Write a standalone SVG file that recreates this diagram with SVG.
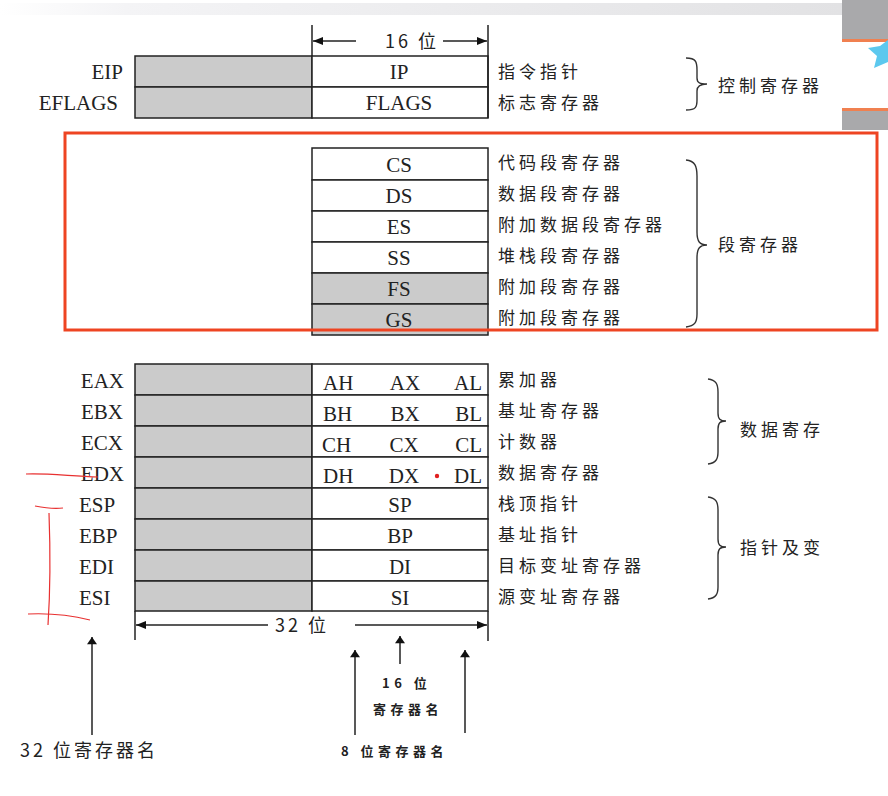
<svg xmlns="http://www.w3.org/2000/svg" width="888" height="796" viewBox="0 0 888 796">
<defs>
<linearGradient id="topband" x1="0" y1="0" x2="1" y2="0">
<stop offset="0" stop-color="#ffffff"/>
<stop offset="0.15" stop-color="#f4f4f6"/>
<stop offset="1" stop-color="#e2e2e4"/>
</linearGradient>
<marker id="ah" viewBox="0 0 10 8" refX="10" refY="4" markerWidth="10" markerHeight="8" markerUnits="userSpaceOnUse" orient="auto">
<path d="M0,0 L10,4 L0,8 Z" fill="#111"/>
</marker>
<marker id="ah2" viewBox="0 0 10 14" refX="10" refY="7" markerWidth="14" markerHeight="10" markerUnits="userSpaceOnUse" orient="auto">
<path d="M0,0 L10,7 L0,14 Z" fill="#111"/>
</marker>
</defs>
<style>
.box{fill:#fff;stroke:#222;stroke-width:1.5}
.g{fill:#cbcbcb;stroke:#222;stroke-width:1.5}
.reg{font-family:"Liberation Serif","DejaVu Serif",serif;font-size:21px;fill:#222}
.cn{font-family:"Noto Sans CJK SC","Noto Sans",sans-serif;font-size:17px;letter-spacing:4px;fill:#222}
.cnb{font-family:"Noto Sans CJK SC","Noto Sans",sans-serif;font-size:18px;letter-spacing:3px;fill:#222}
.cn2{font-family:"Noto Sans CJK SC","Noto Sans",sans-serif;font-size:13px;letter-spacing:4.5px;fill:#222;font-weight:bold}
.ln{stroke:#222;stroke-width:1.5;fill:none}
.br{stroke:#333;stroke-width:1.4;fill:none}
.red{stroke:#e83030;stroke-width:1.2;fill:none}
</style>
<rect width="888" height="796" fill="#fff"/>
<rect x="0" y="3" width="842" height="12" fill="url(#topband)"/>
<g id="corner">
<rect x="842" y="0" width="46" height="40" fill="#a9a9ab"/>
<rect x="842" y="39" width="46" height="3" fill="#f08050"/>
<rect x="842" y="108" width="46" height="3" fill="#f08050"/>
<rect x="842" y="111" width="46" height="19" fill="#a9a9ab"/>
<path d="M888,40 L880,46 L868,48 L877,56 L874,68 L888,62 Z" fill="#5cc8ee"/>
</g>

<g id="ctrl">
<rect class="g" x="135" y="56" width="177" height="31"/>
<rect class="g" x="135" y="87" width="177" height="31"/>
<rect class="box" x="312" y="56" width="176" height="31"/>
<rect class="box" x="312" y="87" width="176" height="31"/>
<text class="reg" x="123" y="79" text-anchor="end">EIP</text>
<text class="reg" x="118" y="110" text-anchor="end">EFLAGS</text>
<text class="reg" x="399" y="79" text-anchor="middle">IP</text>
<text class="reg" x="399" y="110" text-anchor="middle">FLAGS</text>
<text class="cn" x="498" y="78">指令指针</text>
<text class="cn" x="498" y="109">标志寄存器</text>
<path class="br" d="M686,58 C696,58 697,62 697,70 L697,78 C697,83 700,84 707,84 C700,84 697,86 697,91 L697,100 C697,107 696,110 686,110"/>
<text class="cn" x="718" y="92">控制寄存器</text>
</g>

<g id="seg">
<rect class="box" x="312" y="148" width="176" height="32"/>
<rect class="box" x="312" y="180" width="176" height="31"/>
<rect class="box" x="312" y="211" width="176" height="31"/>
<rect class="box" x="312" y="242" width="176" height="31"/>
<rect class="g" x="312" y="273" width="176" height="31"/>
<rect class="g" x="312" y="304" width="176" height="31"/>
<text class="reg" x="399" y="172" text-anchor="middle">CS</text>
<text class="reg" x="399" y="203" text-anchor="middle">DS</text>
<text class="reg" x="399" y="234" text-anchor="middle">ES</text>
<text class="reg" x="399" y="265" text-anchor="middle">SS</text>
<text class="reg" x="399" y="296" text-anchor="middle">FS</text>
<text class="reg" x="399" y="327" text-anchor="middle">GS</text>
<text class="cn" x="498" y="169">代码段寄存器</text>
<text class="cn" x="498" y="200">数据段寄存器</text>
<text class="cn" x="498" y="231">附加数据段寄存器</text>
<text class="cn" x="498" y="262">堆栈段寄存器</text>
<text class="cn" x="498" y="293">附加段寄存器</text>
<text class="cn" x="498" y="324">附加段寄存器</text>
<path class="br" d="M686,160 C695,161 697,166 697,176 L697,232 C697,242 700,245 707,245 C700,245 697,248 697,258 L697,314 C697,322 695,326 686,327"/>
<text class="cn" x="718" y="251">段寄存器</text>
</g>
<rect id="highlight" x="65" y="133" width="812" height="197" fill="none" stroke="#ee4422" stroke-width="3"/>

<g id="gp">
<rect class="g" x="135" y="364" width="177" height="31"/>
<rect class="g" x="135" y="395" width="177" height="31"/>
<rect class="g" x="135" y="426" width="177" height="31"/>
<rect class="g" x="135" y="457" width="177" height="31"/>
<rect class="g" x="135" y="488" width="177" height="31"/>
<rect class="g" x="135" y="519" width="177" height="31"/>
<rect class="g" x="135" y="550" width="177" height="31"/>
<rect class="g" x="135" y="581" width="177" height="30"/>
<rect class="box" x="312" y="364" width="176" height="31"/>
<rect class="box" x="312" y="395" width="176" height="31"/>
<rect class="box" x="312" y="426" width="176" height="31"/>
<rect class="box" x="312" y="457" width="176" height="31"/>
<rect class="box" x="312" y="488" width="176" height="31"/>
<rect class="box" x="312" y="519" width="176" height="31"/>
<rect class="box" x="312" y="550" width="176" height="31"/>
<rect class="box" x="312" y="581" width="176" height="30"/>
<text class="reg" x="124" y="388" text-anchor="end">EAX</text>
<text class="reg" x="123" y="419" text-anchor="end">EBX</text>
<text class="reg" x="123" y="450" text-anchor="end">ECX</text>
<text class="reg" x="124" y="481" text-anchor="end">EDX</text>
<text class="reg" x="79" y="512">ESP</text>
<text class="reg" x="79" y="543">EBP</text>
<text class="reg" x="79" y="574">EDI</text>
<text class="reg" x="79" y="605">ESI</text>
<text class="reg" x="323" y="390">AH</text><text class="reg" x="405" y="390" text-anchor="middle">AX</text><text class="reg" x="482" y="390" text-anchor="end">AL</text>
<text class="reg" x="323" y="421">BH</text><text class="reg" x="405" y="421" text-anchor="middle">BX</text><text class="reg" x="482" y="421" text-anchor="end">BL</text>
<text class="reg" x="322" y="452">CH</text><text class="reg" x="404" y="452" text-anchor="middle">CX</text><text class="reg" x="482" y="452" text-anchor="end">CL</text>
<text class="reg" x="323" y="483">DH</text><text class="reg" x="404" y="483" text-anchor="middle">DX</text><text class="reg" x="482" y="483" text-anchor="end">DL</text>
<circle cx="437" cy="476" r="2.2" fill="#e02020"/>
<text class="reg" x="400" y="512" text-anchor="middle">SP</text>
<text class="reg" x="400" y="543" text-anchor="middle">BP</text>
<text class="reg" x="400" y="574" text-anchor="middle">DI</text>
<text class="reg" x="400" y="605" text-anchor="middle">SI</text>
<text class="cn" x="498" y="386">累加器</text>
<text class="cn" x="498" y="417">基址寄存器</text>
<text class="cn" x="498" y="448">计数器</text>
<text class="cn" x="498" y="479">数据寄存器</text>
<text class="cn" x="498" y="510">栈顶指针</text>
<text class="cn" x="498" y="541">基址指针</text>
<text class="cn" x="498" y="572">目标变址寄存器</text>
<text class="cn" x="498" y="603">源变址寄存器</text>
<path class="br" d="M708,379 C716,380 718,384 718,392 L718,413 C718,419 720,421 726,421 C720,421 718,423 718,429 L718,452 C718,459 716,463 708,464"/>
<text class="cn" x="740" y="436">数据寄存</text>
<path class="br" d="M708,497 C716,498 718,502 718,510 L718,539 C718,545 720,547 726,547 C720,547 718,549 718,555 L718,587 C718,594 716,598 708,599"/>
<text class="cn" x="740" y="554">指针及变</text>
</g>

<g id="connectors">
<line class="ln" x1="312" y1="25" x2="312" y2="56"/>
<line class="ln" x1="488" y1="25" x2="488" y2="118"/>
<line class="ln" x1="356" y1="41" x2="313" y2="41" marker-end="url(#ah)"/>
<line class="ln" x1="443" y1="41" x2="487" y2="41" marker-end="url(#ah)"/>
<line class="ln" x1="135" y1="611" x2="135" y2="640"/>
<line class="ln" x1="488" y1="611" x2="488" y2="641"/>
<line class="ln" x1="268" y1="625" x2="136" y2="625" marker-end="url(#ah)"/>
<line class="ln" x1="355" y1="625" x2="487" y2="625" marker-end="url(#ah)"/>
<line class="ln" x1="92" y1="735" x2="92" y2="637" marker-end="url(#ah2)"/>
<line class="ln" x1="355" y1="735" x2="355" y2="650" marker-end="url(#ah2)"/>
<line class="ln" x1="465" y1="733" x2="465" y2="650" marker-end="url(#ah2)"/>
<line class="ln" x1="400" y1="664" x2="400" y2="636" marker-end="url(#ah2)"/>
</g>
<text class="cnb" x="412" y="48" text-anchor="middle">16 位</text>
<text class="cnb" x="302" y="632" text-anchor="middle">32 位</text>
<text class="cnb" x="20" y="757">32 位寄存器名</text>
<text class="cn2" x="382" y="688">16 位</text>
<text class="cn2" x="373" y="714">寄存器名</text>
<text class="cn2" x="341" y="756">8 位寄存器名</text>

<g id="marks">
<path class="red" d="M26,474 C45,473 70,476 98,477"/>
<path class="red" d="M35,506 C45,508 55,509 63,508"/>
<path class="red" d="M49,513 C50,540 51,580 48,625"/>
<path class="red" d="M28,614 C50,613 70,615 90,620"/>
</g>
</svg>
